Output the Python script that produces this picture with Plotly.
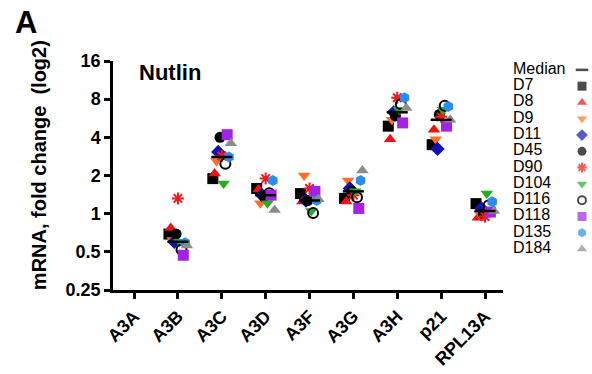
import numpy as np
import plotly.graph_objects as go

# ---------------- data ----------------
categories = ["A3A", "A3B", "A3C", "A3D", "A3F", "A3G", "A3H", "p21", "RPL13A"]
donors = ["D7", "D8", "D9", "D11", "D45", "D90", "D104", "D116", "D118", "D135", "D184"]

D7   = [None, 0.69, 1.89, 1.58, 1.44, 1.32, 4.9, 3.5, 1.20]
D8   = [None, 0.77, 2.07, 1.55, 1.25, 1.25, 3.87, 4.6, 0.93]
D9   = [None, 0.62, 2.60, 1.21, 2.00, 1.83, 5.5, 3.87, 1.00]
D11  = [None, 0.60, 3.07, 1.40, 1.27, 1.58, 6.3, 3.24, 1.10]
D45  = [None, 0.69, 4.00, 1.37, 1.27, 1.50, 5.9, 6.06, 1.00]
D90  = [None, 1.32, 2.85, 1.89, 1.58, 1.40, 8.2, 5.8, 0.95]
D104 = [None, 0.60, 1.73, 1.21, 1.05, 1.50, 6.6, 6.6, 1.44]
D116 = [None, 0.52, 2.48, 1.45, 1.01, 1.35, 7.3, 7.1, 1.16]
D118 = [None, 0.47, 4.20, 1.40, 1.50, 1.10, 5.2, 4.9, 1.03]
D135 = [None, 0.59, 2.80, 1.83, 1.27, 1.83, 8.2, 7.0, 1.24]
D184 = [None, 0.56, 3.60, 1.07, 1.30, 2.19, 6.8, 5.5, 1.05]

values = [D7, D8, D9, D11, D45, D90, D104, D116, D118, D135, D184]

y_tickvals = [0.25, 0.5, 1, 2, 4, 8, 16]
y_ticktext = ["0.25", "0.5", "1", "2", "4", "8", "16"]

# ---------------- styles ----------------
styles = {
    "D7":   dict(symbol="square", color="#000000"),
    "D8":   dict(symbol="triangle-up", color="#EE1111"),
    "D9":   dict(symbol="triangle-down", color="#FF6E22"),
    "D11":  dict(symbol="diamond", color="#1212B4"),
    "D45":  dict(symbol="circle", color="#000000"),
    "D90":  dict(symbol="asterisk-open", color="#F01818"),
    "D104": dict(symbol="triangle-down", color="#22B022"),
    "D116": dict(symbol="circle-open", color="#000000"),
    "D118": dict(symbol="square", color="#A322E6"),
    "D135": dict(symbol="hexagon", color="#2A8EF0"),
    "D184": dict(symbol="triangle-up", color="#8C8C8C"),
}

FONT = "Liberation Sans, Arial, Helvetica, sans-serif"

fig = go.Figure()

# median (computed from the data)
arr = np.array([[np.nan if v is None else v for v in row] for row in values], dtype=float)
med = []
for j in range(len(categories)):
    col = arr[:, j]
    col = col[~np.isnan(col)]
    med.append(float(np.median(col)) if col.size else None)

fig.add_trace(go.Scatter(
    x=categories, y=med, mode="markers", xaxis="x2", yaxis="y",
    marker=dict(symbol="line-ew", size=15, line=dict(color="black", width=2.5)),
    showlegend=False, hoverinfo="skip"))

for name, vals in zip(donors, values):
    st = styles[name]
    open_sym = st["symbol"].endswith("open")
    fig.add_trace(go.Scatter(
        x=categories, y=vals, mode="markers", name=name,
        marker=dict(symbol=st["symbol"], size=11 if not open_sym else 10,
                    color=st["color"],
                    line=dict(color=st["color"], width=2 if open_sym else 0)),
        showlegend=False))

# ---------------- custom legend (text left, glyph right) ----------------
legend_labels = ["Median"] + donors
legend_rows = list(range(len(legend_labels)))
leg_symbols = ["line-ew"] + [styles[d]["symbol"] for d in donors]
leg_colors = ["#000000"] + [styles[d]["color"] for d in donors]
leg_lw = [2.5] + [2 if styles[d]["symbol"].endswith("open") else 0 for d in donors]
leg_sizes = [9] + [8 if styles[d]["symbol"].endswith("open") else 9 for d in donors]

fig.add_trace(go.Scatter(
    x=[8] * len(legend_labels), y=legend_rows, mode="text", text=legend_labels,
    textposition="middle right", textfont=dict(family=FONT, size=16, color="black"),
    xaxis="x3", yaxis="y3", offsetgroup="leg", showlegend=False, hoverinfo="skip",
    cliponaxis=False))
fig.add_trace(go.Scatter(
    x=[77] * len(legend_labels), y=legend_rows, mode="markers", xaxis="x3", yaxis="y3",
    offsetgroup="leg",
    marker=dict(symbol=leg_symbols, size=leg_sizes, color=leg_colors,
                line=dict(color=leg_colors, width=leg_lw)),
    showlegend=False, hoverinfo="skip", cliponaxis=False))

# ---------------- layout ----------------
L, R, T, B = 113, 5, 61, 81
W, H = 592, 374
pw = W - L - R
main_right = (503 - L) / pw
leg_left = (505 - L) / pw

axis_common = dict(showline=True, linewidth=2.5, linecolor="black", ticks="outside",
                   ticklen=6, tickwidth=2.5, tickcolor="black", showgrid=False,
                   zeroline=False, mirror=False)

fig.update_layout(
    width=W, height=H, margin=dict(l=L, r=R, t=T, b=B),
    paper_bgcolor="white", plot_bgcolor="white",
    scattermode="group", scattergap=0.55,
    showlegend=False,
    xaxis=dict(**axis_common, type="category", categoryorder="array",
               categoryarray=categories, range=[-0.48, 8.41], domain=[0, main_right],
               tickangle=-45,
               tickfont=dict(family=FONT, size=18, color="black", weight="bold")),
    xaxis2=dict(type="category", categoryorder="array", categoryarray=categories,
                overlaying="x", matches="x", visible=False, domain=[0, main_right]),
    yaxis=dict(**axis_common, type="log", range=[np.log10(0.25), np.log10(16)],
               tickvals=y_tickvals, ticktext=y_ticktext,
               tickfont=dict(family=FONT, size=18, color="black", weight="bold")),
    xaxis3=dict(domain=[leg_left, 1], range=[0, 82], visible=False, fixedrange=True,
                anchor="y3"),
    yaxis3=dict(domain=[0, 1], range=[13.515, -0.545], visible=False, fixedrange=True,
                anchor="x3"),
    font=dict(family=FONT, color="black"),
)

fig.add_annotation(text="Nutlin", xref="paper", yref="paper",
                   x=(137 - L) / pw, y=(293 - 73) / 232, xanchor="left", yanchor="middle",
                   showarrow=False, font=dict(family=FONT, size=22, color="black", weight="bold"))
fig.add_annotation(text="A", xref="paper", yref="paper",
                   x=(13 - L) / pw, y=(293 - 22) / 232, xanchor="left", yanchor="middle",
                   showarrow=False, font=dict(family=FONT, size=31, color="black", weight="bold"))
fig.add_annotation(text="mRNA, fold change  (log2)", xref="paper", yref="paper",
                   x=(39 - L) / pw, y=(293 - 166.5) / 232, xanchor="center", yanchor="middle",
                   textangle=-90, showarrow=False,
                   font=dict(family=FONT, size=20, color="black", weight="bold"))

fig.write_html("out.html")
